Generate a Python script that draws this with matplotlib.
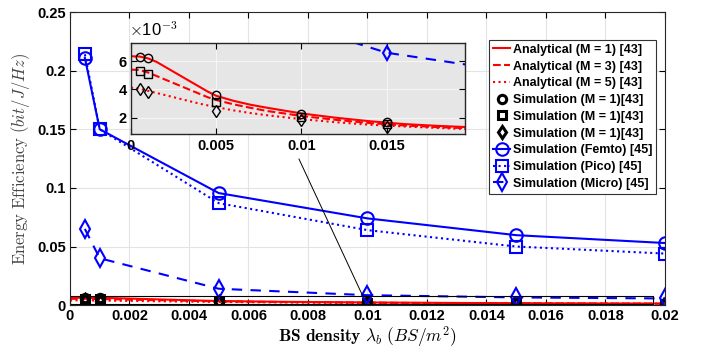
import matplotlib
matplotlib.use("Agg")
from matplotlib import pyplot as plt
import numpy as np

plt.rcParams['font.family'] = ['Liberation Sans', 'DejaVu Sans']
plt.rcParams['font.weight'] = 'bold'
plt.rcParams['mathtext.fontset'] = 'cm'

# analytical curves (EE values)
x_ana = [0, 0.0005, 0.001, 0.0015, 0.002, 0.0025, 0.003, 0.0035, 0.004, 0.0045, 0.005,
         0.006, 0.007, 0.008, 0.009, 0.01, 0.012, 0.014, 0.016, 0.018, 0.02]
ana_m1 = [6.35e-3, 6.33e-3, 6.2e-3, 5.95e-3, 5.6e-3, 5.25e-3, 4.9e-3, 4.55e-3, 4.2e-3, 3.85e-3, 3.55e-3,
          3.2e-3, 2.92e-3, 2.7e-3, 2.5e-3, 2.3e-3, 2.0e-3, 1.75e-3, 1.55e-3, 1.42e-3, 1.32e-3]
ana_m3 = [5.4e-3, 5.38e-3, 5.2e-3, 4.95e-3, 4.7e-3, 4.45e-3, 4.2e-3, 3.95e-3, 3.7e-3, 3.45e-3, 3.25e-3,
          2.95e-3, 2.7e-3, 2.47e-3, 2.3e-3, 2.12e-3, 1.85e-3, 1.62e-3, 1.45e-3, 1.33e-3, 1.24e-3]
ana_m5 = [4.13e-3, 4.05e-3, 3.9e-3, 3.75e-3, 3.6e-3, 3.45e-3, 3.3e-3, 3.15e-3, 3.0e-3, 2.87e-3, 2.75e-3,
          2.52e-3, 2.33e-3, 2.17e-3, 2.03e-3, 1.9e-3, 1.68e-3, 1.5e-3, 1.38e-3, 1.27e-3, 1.18e-3]

# simulation points
x_sim = [0.0005, 0.001, 0.005, 0.01, 0.015, 0.02]
sim_m1 = [6.33e-3, 6.2e-3, 3.6e-3, 2.26e-3, 1.68e-3, 1.4e-3]
sim_m3 = [5.3e-3, 5.09e-3, 3.12e-3, 2.07e-3, 1.54e-3, 1.3e-3]
sim_m5 = [4.06e-3, 3.82e-3, 2.49e-3, 1.84e-3, 1.33e-3, 1.15e-3]
femto = [0.211, 0.150, 0.0956, 0.0740, 0.0597, 0.053]
pico = [0.214, 0.150, 0.087, 0.064, 0.050, 0.044]
micro = [0.065, 0.040, 0.014, 0.0085, 0.0066, 0.0057]

xticks_main = [0, 0.002, 0.004, 0.006, 0.008, 0.01, 0.012, 0.014, 0.016, 0.018, 0.02]
yticks_main = [0, 0.05, 0.1, 0.15, 0.2, 0.25]
xticks_ins = [0, 0.005, 0.01, 0.015]
yticks_ins = [0.002, 0.004, 0.006]

labels = ['Analytical (M = 1) [43]', 'Analytical (M = 3) [43]', 'Analytical (M = 5) [43]',
          'Simulation (M = 1)[43]', 'Simulation (M = 1)[43]', 'Simulation (M = 1)[43]',
          'Simulation (Femto) [45]', 'Simulation (Pico) [45]', 'Simulation (Micro) [45]']


def draw_all(ax, big):
    ms_b = 9 if big else 7
    lw = 1.5
    h = []
    h += ax.plot(x_ana, ana_m1, '-', color='red', lw=lw)
    h += ax.plot(x_ana, ana_m3, '--', color='red', lw=lw)
    h += ax.plot(x_ana, ana_m5, ':', color='red', lw=lw)
    kw = dict(ls='none', color='black', mfc='none', mew=2.2 if big else 1.0, ms=6)
    h += ax.plot(x_sim, sim_m1, marker='o', **kw)
    h += ax.plot(x_sim, sim_m3, marker='s', **kw)
    h += ax.plot(x_sim, sim_m5, marker='d', **kw)
    h += ax.plot(x_sim, femto, '-', marker='o', color='blue', mfc='none', lw=lw, ms=ms_b, mew=1.5)
    h += ax.plot(x_sim, pico, ':', marker='s', color='blue', mfc='none', lw=lw, ms=ms_b - 1, mew=1.5)
    h += ax.plot(x_sim, micro, '--', marker='d', color='blue', mfc='none', lw=lw, ms=ms_b, mew=1.5,
                 dashes=(5, 4))
    return h


fig = plt.figure(figsize=(7.02, 3.54), dpi=100)
ax = fig.add_axes([0.0997, 0.138, 0.8473, 0.828])
handles = draw_all(ax, True)
ax.set_xlim(0, 0.02)
ax.set_ylim(0, 0.25)
ax.set_xticks(xticks_main)
ax.set_xticklabels(['%g' % v for v in xticks_main])
ax.set_yticks(yticks_main)
ax.set_yticklabels(['%g' % v for v in yticks_main])
ax.tick_params(direction='in', top=True, right=True, labelsize=10.5, length=4, pad=3)
ax.grid(True, color='#e3e3e3', lw=0.8)
ax.set_axisbelow(True)
for s in ax.spines.values():
    s.set_color('#262626')
ax.set_xlabel(r'$\mathbf{BS\ density}\ \lambda_b\ (BS/m^2)$', fontsize=12.5, labelpad=1)
ax.set_ylabel(r'$\mathrm{Energy\ Efficiency}\ (bit/J/Hz)$', fontsize=12, color='#444444', labelpad=4)

# zoom rectangle and connector
ax.plot([0, 0.0196, 0.0196, 0, 0], [0.0008, 0.0008, 0.0075, 0.0075, 0.0008], color='black', lw=0.8)
ax.plot([0.0077, 0.00985], [0.1246, 0.0075], color='black', lw=0.7)

# inset
axi = fig.add_axes([0.1866, 0.6205, 0.4758, 0.2585])
axi.set_facecolor('#e6e6e6')
draw_all(axi, False)
axi.set_xlim(0, 0.0196)
axi.set_ylim(0.00082, 0.0073)
axi.set_xticks(xticks_ins)
axi.set_xticklabels(['%g' % v for v in xticks_ins])
axi.set_yticks(yticks_ins)
axi.set_yticklabels(['%d' % round(v * 1000) for v in yticks_ins])
axi.tick_params(direction='in', top=True, right=True, labelsize=10.5, length=4, pad=3)
axi.grid(True, color='#f5f5f5', lw=0.8)
axi.set_axisbelow(True)
for s in axi.spines.values():
    s.set_color('#262626')
    s.set_linewidth(1.0)
axi.text(-0.005, 1.04, r'$\times$10$^{-3}$', transform=axi.transAxes, fontsize=12,
         fontweight='normal', ha='left', va='bottom')

leg = fig.legend(handles, labels, loc='upper left', bbox_to_anchor=(0.6966, 0.887),
                 fontsize=9, frameon=True, fancybox=False, edgecolor='#333333',
                 handlelength=1.4, handletextpad=0.2, borderpad=0.3, labelspacing=0.38,
                 borderaxespad=0, framealpha=1)
leg.get_frame().set_linewidth(0.8)

fig.savefig('out.png', dpi=100)
